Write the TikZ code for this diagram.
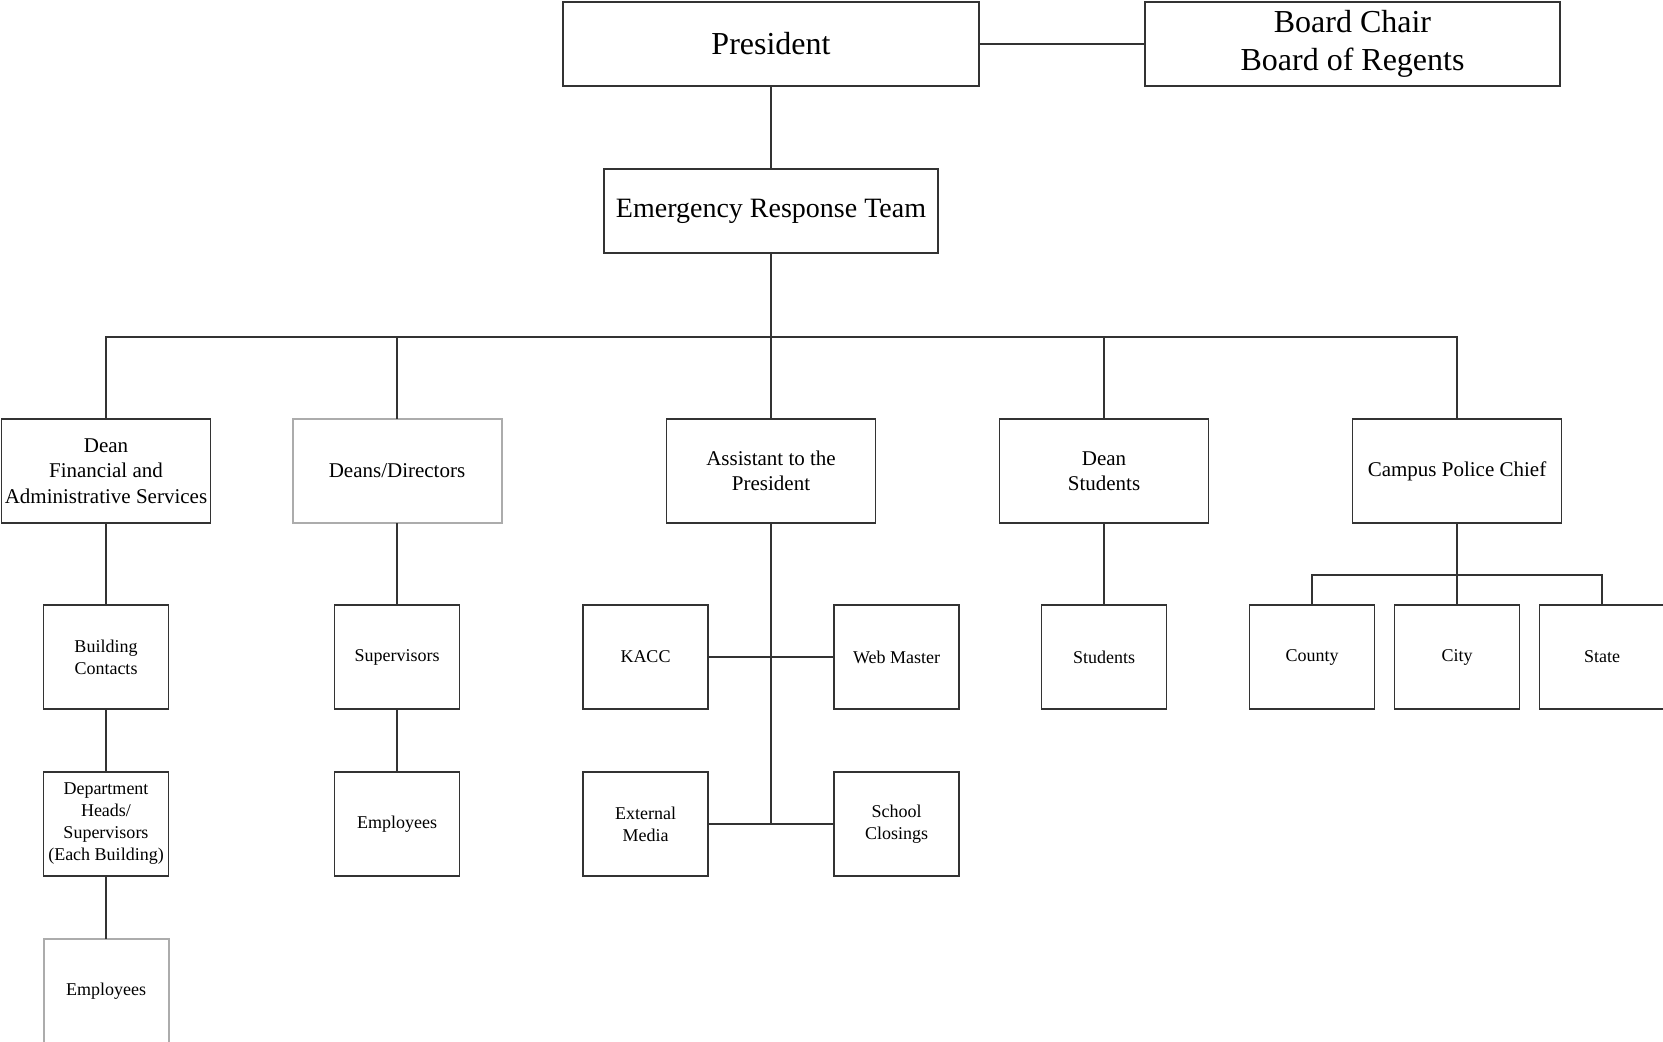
\documentclass[tikz,border=0pt]{standalone}
\usepackage{fontspec}
\setmainfont{Liberation Serif}
\usetikzlibrary{positioning}
\definecolor{linegray}{HTML}{333333}
\tikzset{box/.style={rectangle,draw=linegray,line width=0.75pt,inner sep=1pt,outer sep=0pt,align=center,text=black},
  head/.style={box,minimum height=42pt,font=\fontsize{16}{19}\selectfont},
  unit/.style={box,minimum width=104.5pt,minimum height=52pt,font=\fontsize{10.5}{12.7}\selectfont},
  leaf/.style={box,minimum width=62.5pt,minimum height=52pt,font=\fontsize{9}{11}\selectfont},
  faded/.style={draw=gray!65,line width=1pt},
  link/.style={draw=linegray,line width=0.75pt}}

\begin{document}
\begin{tikzpicture}[x=0.5pt,y=-0.5pt]
  \useasboundingbox (0,0) rectangle (1663,1041);
  \node (pres)  [head,minimum width=208pt] at (771,44) {President};
  \node (board) [head,minimum width=207.5pt,right=83pt of pres] {Board Chair\\Board of Regents};
  \node (ert)   [head,minimum width=167pt,font=\fontsize{14}{17}\selectfont,below=41.5pt of pres] {Emergency Response Team};
  \coordinate [below=42pt of ert] (bus);

  \node (asst)   [unit,below=83pt of ert]     {Assistant to the\\President};
  \node (deans)  [unit,faded,left=82.5pt of asst] {Deans/Directors};
  \node (dfas)   [unit,left=41pt of deans]    {Dean\\Financial and\\Administrative Services};
  \node (dstud)  [unit,right=62pt of asst]    {Dean\\Students};
  \node (police) [unit,right=72pt of dstud]   {Campus Police Chief};

  \node (bconn) [leaf,below=41pt of dfas]    {Building\\Contacts};
  \node (dhead) [leaf,below=31.5pt of bconn] {Department\\Heads/\\Supervisors\\(Each Building)};
  \node (emp1)  [leaf,faded,below=31.5pt of dhead] {Employees};
  \node (sup)   [leaf,below=41pt of deans]   {Supervisors};
  \node (emp2)  [leaf,below=31.5pt of sup]   {Employees};
  \node (kacc)  [leaf,below=41pt of asst,xshift=-62.75pt] {KACC};
  \node (web)   [leaf,below=41pt of asst,xshift=62.75pt]  {Web Master};
  \node (extm)  [leaf,below=31.5pt of kacc]  {External\\Media};
  \node (school)[leaf,below=31.5pt of web]   {School\\Closings};
  \node (stud)  [leaf,below=41pt of dstud]   {Students};
  \node (city)  [leaf,below=41pt of police]  {City};
  \node (county)[leaf,left=10pt of city]     {County};
  \node (state) [leaf,right=10pt of city]    {State};
  \coordinate [below=26pt of police] (pbus);

  % top of the chart
  \path[link] (pres) -- (board)
        (pres) -- (ert)
        (ert) -- (asst)
        (dfas.north) |- (bus) -| (police.north)
        (deans.north) -- (deans.north |- bus)
        (dstud.north) -- (dstud.north |- bus);
  % branches
  \path[link] (dfas) -- (bconn) (bconn) -- (dhead) (dhead) -- (emp1)
        (deans) -- (sup) (sup) -- (emp2)
        (asst.south) -- (asst.south |- extm.east)
        (kacc) -- (web) (extm) -- (school)
        (dstud) -- (stud)
        (police) -- (city)
        (county.north) |- (pbus) -| (state.north);
\end{tikzpicture}
\end{document}
